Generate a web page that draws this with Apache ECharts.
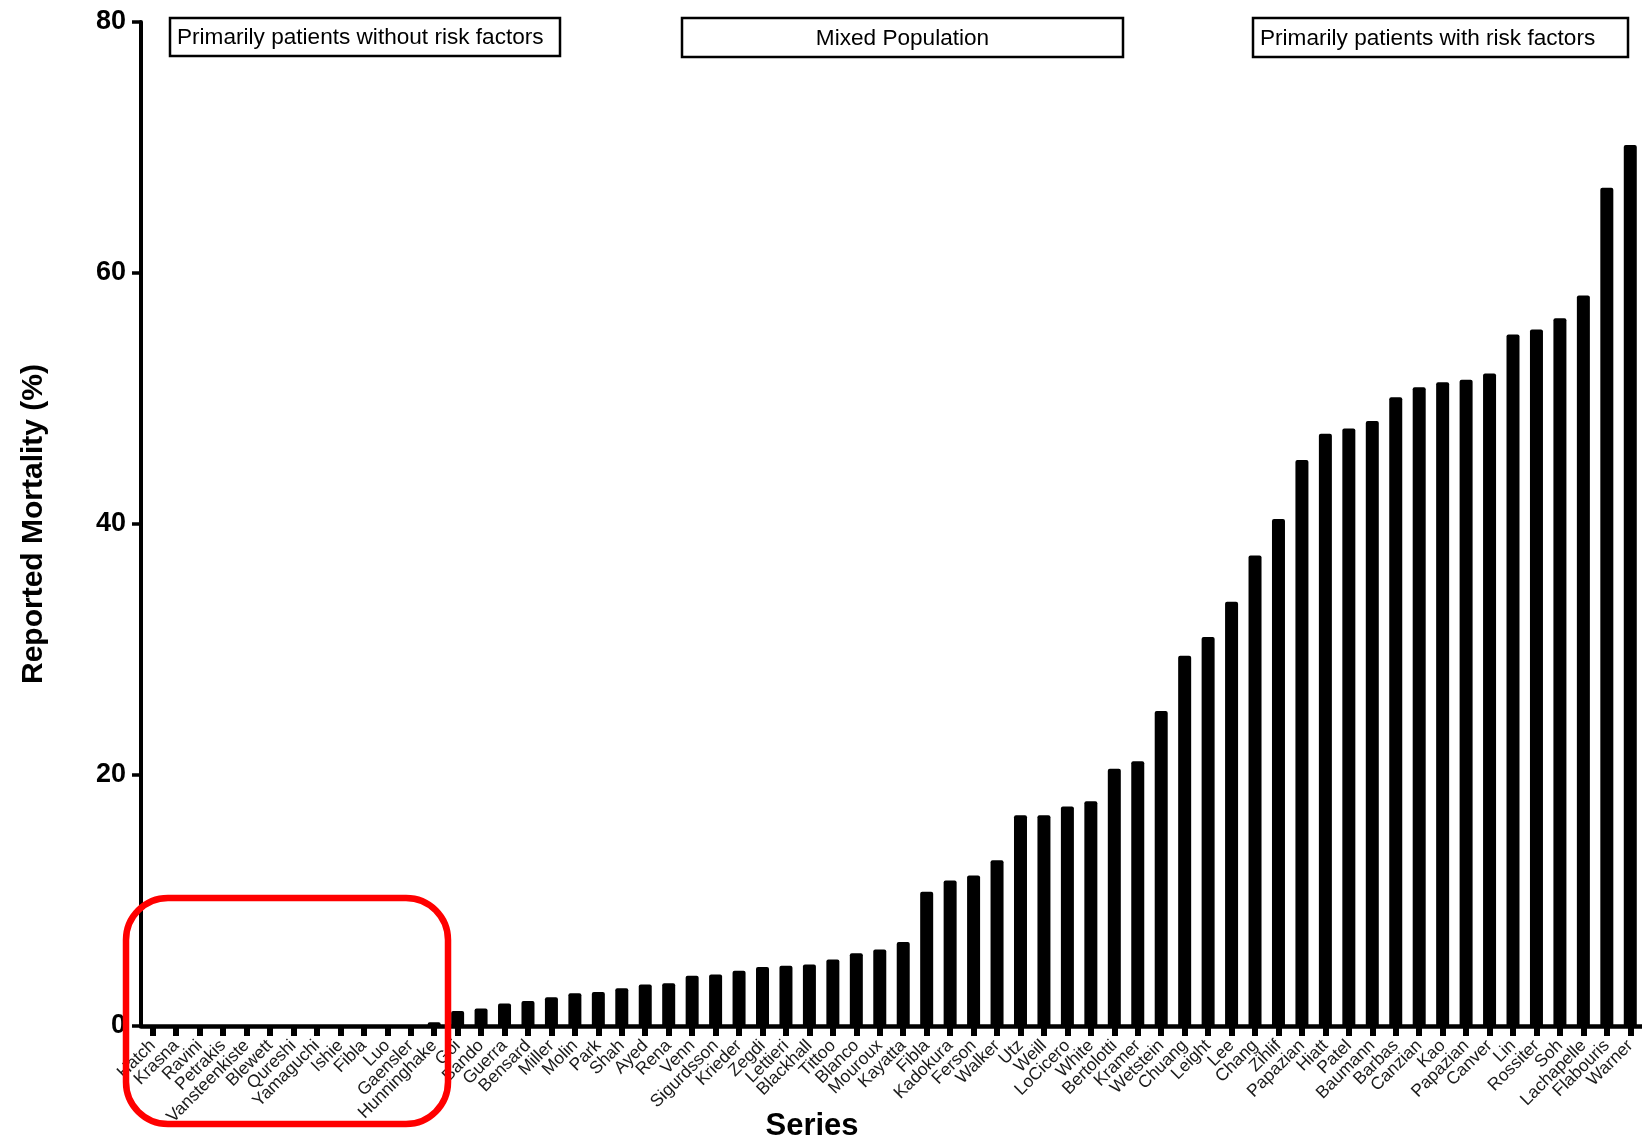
<!DOCTYPE html>
<html>
<head>
<meta charset="utf-8">
<title>Reported Mortality by Series</title>
<script src="https://cdn.jsdelivr.net/npm/echarts@6/dist/echarts.min.js"></script>
<style>
  html, body { margin: 0; padding: 0; background: #ffffff; }
  #chart { width: 1642px; height: 1141px; }
</style>
</head>
<body>
<div id="chart"></div>
<script>
// Published case series, ordered by reported mortality
const seriesNames = [
  'Hatch', 'Krasna', 'Ravini', 'Petrakis', 'Vansteenkiste', 'Blewett', 'Qureshi', 'Yamaguchi',
  'Ishie', 'Fibla', 'Luo', 'Gaensler', 'Hunninghake', 'Goi', 'Bando', 'Guerra',
  'Bensard', 'Miller', 'Molin', 'Park', 'Shah', 'Ayed', 'Rena', 'Venn',
  'Sigurdsson', 'Krieder', 'Zegdi', 'Lettieri', 'Blackhall', 'Tittoo', 'Blanco', 'Mouroux',
  'Kayatta', 'Fibla', 'Kadokura', 'Ferson', 'Walker', 'Utz', 'Weill', 'LoCicero',
  'White', 'Bertolotti', 'Kramer', 'Wetstein', 'Chuang', 'Leight', 'Lee', 'Chang',
  'Zihlif', 'Papazian', 'Hiatt', 'Patel', 'Baumann', 'Barbas', 'Canzian', 'Kao',
  'Papazian', 'Canver', 'Lin', 'Rossiter', 'Soh', 'Lachapelle', 'Flabouris', 'Warner'
];

// Reported mortality (%) for each series
const mortality = [
  0, 0, 0, 0, 0, 0, 0, 0,
  0, 0, 0, 0, 0.3, 1.2, 1.4, 1.8,
  2.0, 2.3, 2.6, 2.7, 3.0, 3.3, 3.4, 4.0,
  4.1, 4.4, 4.7, 4.8, 4.9, 5.3, 5.8, 6.1,
  6.7, 10.7, 11.6, 12.0, 13.2, 16.8, 16.8, 17.5,
  17.9, 20.5, 21.1, 25.1, 29.5, 31.0, 33.8, 37.5,
  40.4, 45.1, 47.2, 47.6, 48.2, 50.1, 50.9, 51.3,
  51.5, 52.0, 55.1, 55.5, 56.4, 58.2, 66.8, 70.2
];

// Y axis range and step
const yMin = 0;
const yMax = 80;
const yStep = 20;

// Population group captions shown across the top
const groupCaptions = [
  'Primarily patients without risk factors',
  'Mixed Population',
  'Primarily patients with risk factors'
];

const FONT = '"Liberation Sans", Arial, Helvetica, sans-serif';

const chart = echarts.init(document.getElementById('chart'), null, { renderer: 'canvas' });

function captionBox(x, y, w, h, text, align) {
  return {
    type: 'group',
    children: [
      {
        type: 'rect',
        shape: { x: x, y: y, width: w, height: h },
        style: { fill: '#ffffff', stroke: '#000000', lineWidth: 2.5 }
      },
      {
        type: 'text',
        x: align === 'center' ? x + w / 2 : x + 7,
        y: y + h / 2 + 1,
        style: {
          text: text,
          font: '22.6px ' + FONT,
          fill: '#000000',
          align: align,
          verticalAlign: 'middle',
          textAlign: align,
          textVerticalAlign: 'middle'
        }
      }
    ]
  };
}

const option = {
  backgroundColor: '#ffffff',
  animation: false,
  grid: {
    left: 141,
    top: 22,
    width: 1508,
    bottom: 115,
    containLabel: false
  },
  xAxis: {
    type: 'category',
    data: seriesNames,
    boundaryGap: true,
    axisLine: { show: true, lineStyle: { color: '#000000', width: 4.5 } },
    axisTick: {
      show: true,
      alignWithLabel: true,
      interval: 0,
      length: 10,
      lineStyle: { color: '#000000', width: 6 }
    },
    axisLabel: {
      interval: 0,
      rotate: 45,
      margin: 17,
      fontFamily: FONT,
      fontSize: 17.5,
      color: '#1a1a1a'
    },
    splitLine: { show: false }
  },
  yAxis: {
    type: 'value',
    min: yMin,
    max: yMax,
    interval: yStep,
    name: 'Reported Mortality (%)',
    nameLocation: 'middle',
    nameGap: 92,
    nameTextStyle: {
      fontFamily: FONT,
      fontSize: 30,
      fontWeight: 'bold',
      color: '#000000'
    },
    axisLine: { show: true, lineStyle: { color: '#000000', width: 4 } },
    axisTick: { show: true, length: 9, lineStyle: { color: '#000000', width: 3.5 } },
    axisLabel: {
      margin: 15,
      fontFamily: FONT,
      fontSize: 27,
      fontWeight: 'bold',
      color: '#000000'
    },
    splitLine: { show: false }
  },
  series: [
    {
      type: 'bar',
      data: mortality,
      barWidth: 13,
      itemStyle: { color: '#000000', borderRadius: [2, 2, 0, 0] },
      z: 1
    }
  ],
  graphic: [
    captionBox(170, 18, 390, 38, groupCaptions[0], 'left'),
    captionBox(682, 18, 441, 39, groupCaptions[1], 'center'),
    captionBox(1253, 18, 375, 39, groupCaptions[2], 'left'),
    {
      type: 'text',
      x: 812,
      y: 1126,
      style: {
        text: 'Series',
        font: 'bold 31px ' + FONT,
        fill: '#000000',
        align: 'center',
        verticalAlign: 'middle',
        textAlign: 'center',
        textVerticalAlign: 'middle'
      }
    },
    {
      // highlight around the zero-mortality series
      type: 'rect',
      z: 100,
      shape: { x: 126, y: 898, width: 322, height: 226, r: 42 },
      style: { fill: 'none', stroke: '#ff0000', lineWidth: 6.5 }
    }
  ]
};

chart.setOption(option);
</script>
</body>
</html>
